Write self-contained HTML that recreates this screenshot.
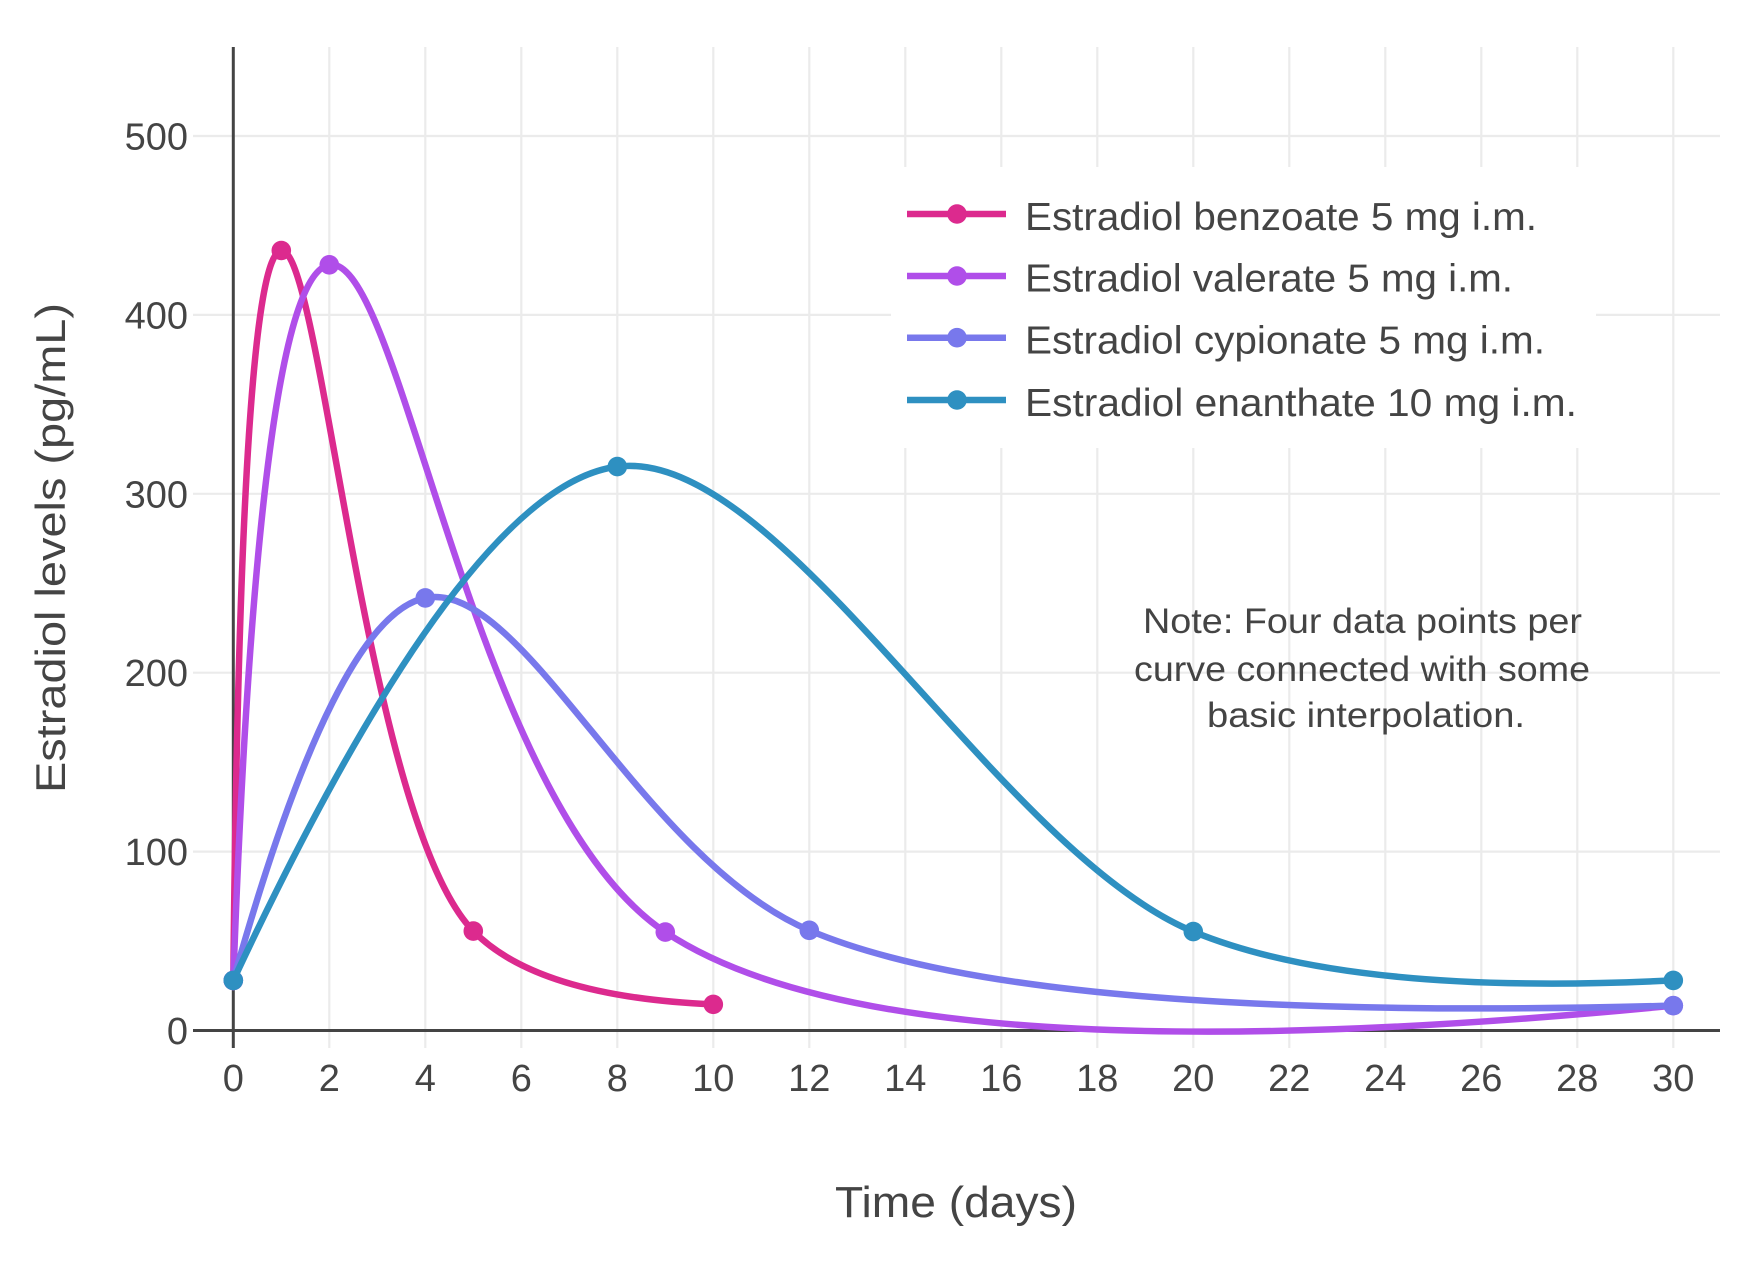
<!DOCTYPE html>
<html>
<head>
<meta charset="utf-8">
<style>
html,body{margin:0;padding:0;background:#fff;}
svg{display:block;}
</style>
</head>
<body>
<svg id="c" xmlns="http://www.w3.org/2000/svg" width="1759" height="1261" viewBox="0 0 1759 1261" font-family="'Liberation Sans', 'DejaVu Sans', sans-serif">
<rect x="0" y="0" width="1759" height="1261" fill="#fff"/>
<g id="grid" stroke="#ebebeb" stroke-width="2.2"></g>
<g id="zero" stroke="#444" stroke-width="3">
  <line x1="193" y1="1030.5" x2="1720" y2="1030.5"/>
  <line x1="233.3" y1="47" x2="233.3" y2="1048"/>
</g>
<g id="ticks" fill="#444" font-size="38"></g>
<text x="956" y="1217" font-size="44" fill="#444" text-anchor="middle" textLength="242" lengthAdjust="spacingAndGlyphs">Time (days)</text>
<text transform="translate(65,548) rotate(-90)" x="0" y="0" font-size="42" fill="#444" text-anchor="middle" textLength="490" lengthAdjust="spacingAndGlyphs">Estradiol levels (pg/mL)</text>
<g id="traces"></g>
<g id="note" fill="#444" font-size="35" text-anchor="middle">
  <text x="1362.5" y="633" textLength="439" lengthAdjust="spacingAndGlyphs">Note: Four data points per</text>
  <text x="1362" y="681" textLength="456" lengthAdjust="spacingAndGlyphs">curve connected with some</text>
  <text x="1366" y="727" textLength="318" lengthAdjust="spacingAndGlyphs">basic interpolation.</text>
</g>
<rect x="891" y="167" width="705" height="281" fill="#fff"/>
<g id="legend" font-size="39" fill="#444"></g>
</svg>
<script>
(function(){
var NS="http://www.w3.org/2000/svg";
function el(tag,attrs,parent,txt){var e=document.createElementNS(NS,tag);for(var k in attrs)e.setAttribute(k,attrs[k]);if(txt!=null)e.textContent=txt;parent.appendChild(e);return e;}
var X=function(d){return 233.3+48*d;}, Y=function(v){return 1030.5-1.789*v;};
var grid=document.getElementById('grid');
for(var k=1;k<=15;k++){var x=X(2*k);el('line',{x1:x,y1:47,x2:x,y2:1048},grid);}
for(var k=1;k<=5;k++){var y=Y(100*k);el('line',{x1:193,y1:y,x2:1720,y2:y},grid);}
var ticks=document.getElementById('ticks');
for(var k=0;k<=15;k++){el('text',{x:X(2*k),y:1091,'text-anchor':'middle'},ticks,String(2*k));}
for(var k=0;k<=5;k++){el('text',{x:188,y:Y(100*k)+13.5,'text-anchor':'end'},ticks,String(100*k));}

function tan(p,c,n,s){
  var d1x=p[0]-c[0],d1y=p[1]-c[1],d2x=n[0]-c[0],d2y=n[1]-c[1];
  var d1a=Math.pow(d1x*d1x+d1y*d1y,0.25),d2a=Math.pow(d2x*d2x+d2y*d2y,0.25);
  var nx=(d2a*d2a*d1x-d1a*d1a*d2x)*s,ny=(d2a*d2a*d1y-d1a*d1a*d2y)*s;
  var e1=3*d2a*(d1a+d2a),e2=3*d1a*(d1a+d2a);
  return [[c[0]+nx/e1,c[1]+ny/e1],[c[0]-nx/e2,c[1]-ny/e2]];
}
function pth(pts,s){
  var t=[],i;
  for(i=1;i<pts.length-1;i++)t.push(tan(pts[i-1],pts[i],pts[i+1],s));
  var d='M'+pts[0]+'Q'+t[0][0]+' '+pts[1];
  for(i=2;i<pts.length-1;i++)d+='C'+t[i-2][1]+' '+t[i-1][0]+' '+pts[i];
  d+='Q'+t[pts.length-3][1]+' '+pts[pts.length-1];
  return d;
}
var series=[
 {name:'Estradiol benzoate 5 mg i.m.',c:'#dc2a8e',d:[[0,28],[1,436],[5,55.6],[10,14.6]],tl:512},
 {name:'Estradiol valerate 5 mg i.m.',c:'#b04ee9',d:[[0,28],[2,428],[9,55],[30,13.9]],tl:488},
 {name:'Estradiol cypionate 5 mg i.m.',c:'#7878ec',d:[[0,28],[4,241.8],[12,56],[30,13.9]],tl:520},
 {name:'Estradiol enanthate 10 mg i.m.',c:'#2e90c1',d:[[0,28],[8,315.2],[20,55.3],[30,28]],tl:552}
];
var tr=document.getElementById('traces');
var lg=document.getElementById('legend');
series.forEach(function(s,i){
  var pts=s.d.map(function(p){return [X(p[0]),Y(p[1])];});
  var g=el('g',{},tr);
  el('path',{d:pth(pts,1),fill:'none',stroke:s.c,'stroke-width':6.5,'stroke-linejoin':'round','stroke-linecap':'butt'},g);
  pts.forEach(function(p){el('circle',{cx:p[0],cy:p[1],r:9.8,fill:s.c},g);});
  var cy=[214,276,337.7,400][i], by=[230,291.7,353.3,416][i];
  el('line',{x1:907,y1:cy,x2:1006,y2:cy,stroke:s.c,'stroke-width':6.5},lg);
  el('circle',{cx:957,cy:cy,r:9.8,fill:s.c},lg);
  el('text',{x:1025,y:by,textLength:s.tl,lengthAdjust:'spacingAndGlyphs'},lg,s.name);
});
})();
</script>
</body>
</html>
